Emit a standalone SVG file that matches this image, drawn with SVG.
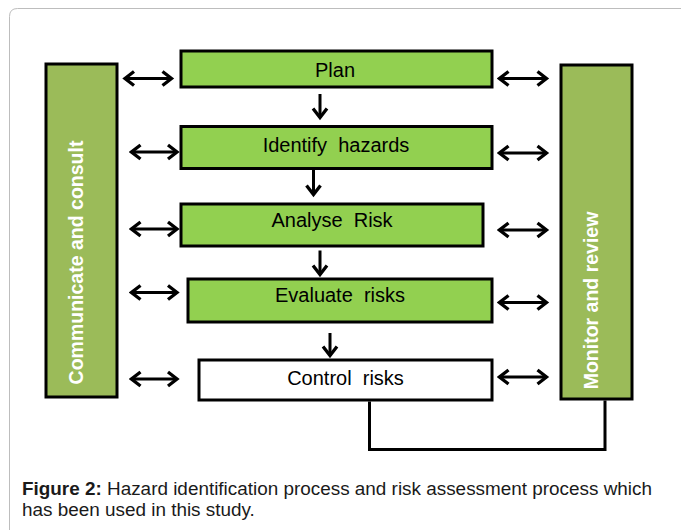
<svg xmlns="http://www.w3.org/2000/svg" width="681" height="530" viewBox="0 0 681 530">
  <style>
    .step { fill: #92d050; stroke: #000; stroke-width: 3; }
    .step.plain { fill: #fff; }
    .bar { fill: #9bbb59; stroke: #000; stroke-width: 3; }
    .label { font-family: "Liberation Sans", Arial, sans-serif; font-size: 20px; fill: #000; text-anchor: middle; }
    .side { font-family: "Liberation Sans", Arial, sans-serif; font-size: 19.5px; font-weight: bold; fill: #fff; text-anchor: middle; }
    .link { stroke: #000; stroke-width: 3; fill: none; }
    .caption { font-family: "Liberation Sans", Arial, sans-serif; font-size: 18.9px; fill: #1a1a1a; }
  </style>
  <defs>
    <marker id="chev" viewBox="-12 -10 15 20" markerWidth="15" markerHeight="20" refX="0" refY="0" markerUnits="userSpaceOnUse" orient="auto-start-reverse">
      <path d="M-9,-7 L0,0 L-9,7" fill="none" stroke="#000" stroke-width="3.3"/>
    </marker>
  </defs>

  <rect width="681" height="530" fill="#fff"/>
  <!-- page frame -->
  <path d="M9.5,530 L9.5,16.5 Q9.5,8.5 17.5,8.5 L681,8.5" fill="none" stroke="#bdbdbd" stroke-width="1"/>

  <!-- side bars -->
  <g id="communicate">
    <rect class="bar" x="46" y="64" width="71" height="333"/>
    <text class="side" transform="translate(83 262.5) rotate(-90)">Communicate and consult</text>
  </g>
  <g id="monitor">
    <rect class="bar" x="561" y="65" width="71" height="334"/>
    <text class="side" transform="translate(598 300.5) rotate(-90)">Monitor and review</text>
  </g>

  <!-- process steps -->
  <g id="plan">
    <rect class="step" x="181" y="51" width="311" height="36"/>
    <text class="label" x="335" y="77">Plan</text>
  </g>
  <g id="identify">
    <rect class="step" x="181" y="126.5" width="311" height="42"/>
    <text class="label" x="336" y="151.5" xml:space="preserve">Identify  hazards</text>
  </g>
  <g id="analyse">
    <rect class="step" x="181" y="204" width="302" height="42"/>
    <text class="label" x="332" y="227" xml:space="preserve">Analyse  Risk</text>
  </g>
  <g id="evaluate">
    <rect class="step" x="188" y="279" width="304" height="43"/>
    <text class="label" x="340" y="301.5" xml:space="preserve">Evaluate  risks</text>
  </g>
  <g id="control">
    <rect class="step plain" x="199" y="360" width="293" height="40"/>
    <text class="label" x="345.5" y="384.5" xml:space="preserve">Control  risks</text>
  </g>

  <!-- connectors -->
  <g id="connectors" class="link">
    <!-- flow down -->
    <line x1="320" y1="94" x2="320" y2="117.5" marker-end="url(#chev)"/>
    <line x1="313.5" y1="170" x2="313.5" y2="194.5" marker-end="url(#chev)"/>
    <line x1="320" y1="250.5" x2="320" y2="274.5" marker-end="url(#chev)"/>
    <line x1="330" y1="333" x2="330" y2="355.5" marker-end="url(#chev)"/>
    <!-- left exchange -->
    <line x1="125" y1="78.5" x2="171.5" y2="78.5" marker-start="url(#chev)" marker-end="url(#chev)"/>
    <line x1="131.5" y1="152" x2="177" y2="152" marker-start="url(#chev)" marker-end="url(#chev)"/>
    <line x1="131.5" y1="229" x2="177" y2="229" marker-start="url(#chev)" marker-end="url(#chev)"/>
    <line x1="131.5" y1="292.5" x2="177" y2="292.5" marker-start="url(#chev)" marker-end="url(#chev)"/>
    <line x1="131.5" y1="379" x2="177" y2="379" marker-start="url(#chev)" marker-end="url(#chev)"/>
    <!-- right exchange -->
    <line x1="499.5" y1="78.5" x2="546.5" y2="78.5" marker-start="url(#chev)" marker-end="url(#chev)"/>
    <line x1="499.5" y1="153" x2="546.5" y2="153" marker-start="url(#chev)" marker-end="url(#chev)"/>
    <line x1="499.5" y1="230" x2="546.5" y2="230" marker-start="url(#chev)" marker-end="url(#chev)"/>
    <line x1="499.5" y1="302.5" x2="546.5" y2="302.5" marker-start="url(#chev)" marker-end="url(#chev)"/>
    <line x1="499.5" y1="377" x2="546.5" y2="377" marker-start="url(#chev)" marker-end="url(#chev)"/>
    <!-- feedback loop from control to monitor -->
    <path d="M369.5,401.5 L369.5,449.5 L605,449.5 L605,400.5"/>
  </g>

  <!-- caption -->
  <text class="caption" x="22" y="495"><tspan font-weight="bold">Figure 2:</tspan> Hazard identification process and risk assessment process which</text>
  <text class="caption" x="22" y="515.5">has been used in this study.</text>
</svg>
